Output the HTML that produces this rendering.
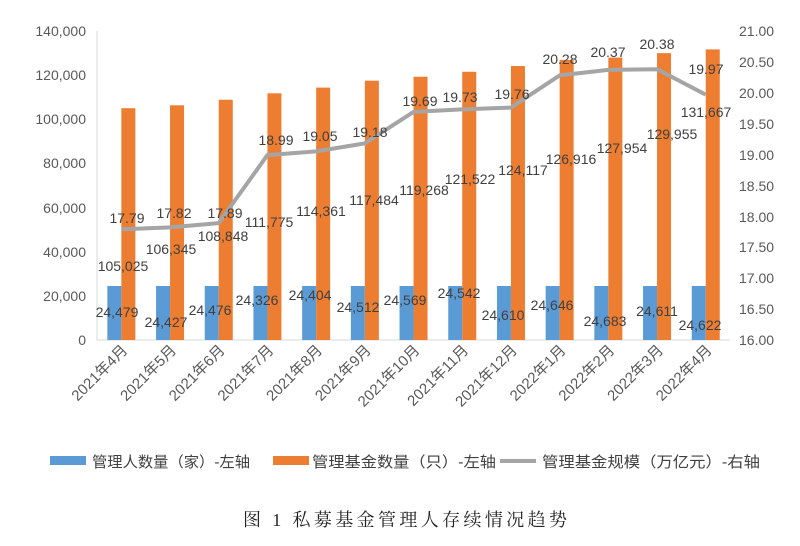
<!DOCTYPE html>
<html><head><meta charset="utf-8"><style>
html,body{margin:0;padding:0;background:#fff;}
svg{display:block;font-family:"Liberation Sans","Noto Sans CJK SC",sans-serif;}
</style></head><body>
<svg width="800" height="546" viewBox="0 0 800 546" xmlns="http://www.w3.org/2000/svg">
<rect width="800" height="546" fill="#fff"/>
<line x1="97" y1="31" x2="97" y2="340" stroke="#d9d9d9"/>
<line x1="97" y1="340" x2="730" y2="340" stroke="#d9d9d9"/>
<g font-size="14" fill="#595959" text-anchor="end">
<text x="86" y="36">140,000</text><text x="86" y="80">120,000</text><text x="86" y="124">100,000</text>
<text x="86" y="168">80,000</text><text x="86" y="213">60,000</text><text x="86" y="257">40,000</text>
<text x="86" y="301">20,000</text><text x="86" y="345">0</text>
</g>
<g font-size="14" fill="#595959" text-anchor="start">
<text x="739" y="36">21.00</text><text x="739" y="67">20.50</text><text x="739" y="98">20.00</text>
<text x="739" y="129">19.50</text><text x="739" y="160">19.00</text><text x="739" y="191">18.50</text>
<text x="739" y="222">18.00</text><text x="739" y="252">17.50</text><text x="739" y="283">17.00</text>
<text x="739" y="314">16.50</text><text x="739" y="345">16.00</text>
</g>
<g id="bars"></g>
<polyline fill="none" stroke="#a5a5a5" stroke-width="4" stroke-linejoin="round" points="121.3,229.3 170,227.4 218.7,223.1 267.4,155.1 316.1,151.4 364.8,143.4 413.5,111.9 462.2,109.4 510.9,107.6 559.6,75.4 608.3,69.9 657,69.2 705.7,94.6"/>
<g font-size="14" fill="#404040" text-anchor="middle">
<text x="117" y="317">24,479</text><text x="166" y="327">24,427</text><text x="210" y="315">24,476</text>
<text x="257" y="305">24,326</text><text x="310" y="300">24,404</text><text x="358" y="312">24,512</text>
<text x="405" y="305">24,569</text><text x="459" y="298">24,542</text><text x="503" y="320">24,610</text>
<text x="552" y="310">24,646</text><text x="605" y="326">24,683</text><text x="657" y="316">24,611</text>
<text x="700" y="330">24,622</text>
<text x="123" y="271">105,025</text><text x="171" y="254">106,345</text><text x="223" y="241">108,848</text>
<text x="269" y="227">111,775</text><text x="321" y="216">114,361</text><text x="374" y="205">117,484</text>
<text x="424" y="195">119,268</text><text x="470" y="184">121,522</text><text x="523" y="175">124,117</text>
<text x="571" y="164">126,916</text><text x="622" y="153">127,954</text><text x="672" y="139">129,955</text>
<text x="706" y="117">131,667</text>
<text x="127" y="223">17.79</text><text x="174" y="218">17.82</text><text x="225" y="218">17.89</text>
<text x="276" y="145">18.99</text><text x="320" y="141">19.05</text><text x="370" y="137">19.18</text>
<text x="420" y="106">19.69</text><text x="460" y="102">19.73</text><text x="512" y="99">19.76</text>
<text x="560" y="64">20.28</text><text x="608" y="57">20.37</text><text x="657" y="49">20.38</text>
<text x="706" y="74">19.97</text>
</g>
<g font-size="15" fill="#595959" text-anchor="end" id="xl"></g>
<rect x="50" y="456" width="36" height="9" fill="#5b9bd5"/>
<text x="92" y="467" font-size="15" fill="#404040" textLength="158" lengthAdjust="spacingAndGlyphs">管理人数量（家）-左轴</text>
<rect x="273" y="456" width="36" height="9" fill="#ed7d31"/>
<text x="312" y="467" font-size="15" fill="#404040" textLength="184" lengthAdjust="spacingAndGlyphs">管理基金数量（只）-左轴</text>
<line x1="500" y1="461" x2="536" y2="461" stroke="#a5a5a5" stroke-width="4"/>
<text x="542" y="467" font-size="15" fill="#404040" textLength="218" lengthAdjust="spacingAndGlyphs">管理基金规模（万亿元）-右轴</text>
<text x="243" y="526" font-size="18" fill="#222" textLength="324" lengthAdjust="spacing" font-family="'Liberation Serif','Noto Serif CJK SC',serif">图 1  私募基金管理人存续情况趋势</text>
<script>
var o=[105025,106345,108848,111775,114361,117484,119268,121522,124117,126916,127954,129955,131667];
var L=["2021年4月","2021年5月","2021年6月","2021年7月","2021年8月","2021年9月","2021年10月","2021年11月","2021年12月","2022年1月","2022年2月","2022年3月","2022年4月"];
var b=document.getElementById('bars'),xl=document.getElementById('xl'),ns="http://www.w3.org/2000/svg";
for(var i=0;i<13;i++){var c=97+48.7*(i+0.5);
var r=document.createElementNS(ns,'rect');r.setAttribute('x',c-14);r.setAttribute('y',286);r.setAttribute('width',14);r.setAttribute('height',54);r.setAttribute('fill','#5b9bd5');b.appendChild(r);
var h=o[i]/140000*309;r=document.createElementNS(ns,'rect');r.setAttribute('x',c);r.setAttribute('y',340-h);r.setAttribute('width',14);r.setAttribute('height',h);r.setAttribute('fill','#ed7d31');b.appendChild(r);
var t=document.createElementNS(ns,'text');t.setAttribute('transform','translate('+(c+7)+',351) rotate(-45)');t.textContent=L[i];xl.appendChild(t);}
</script>
</svg>
</body></html>
